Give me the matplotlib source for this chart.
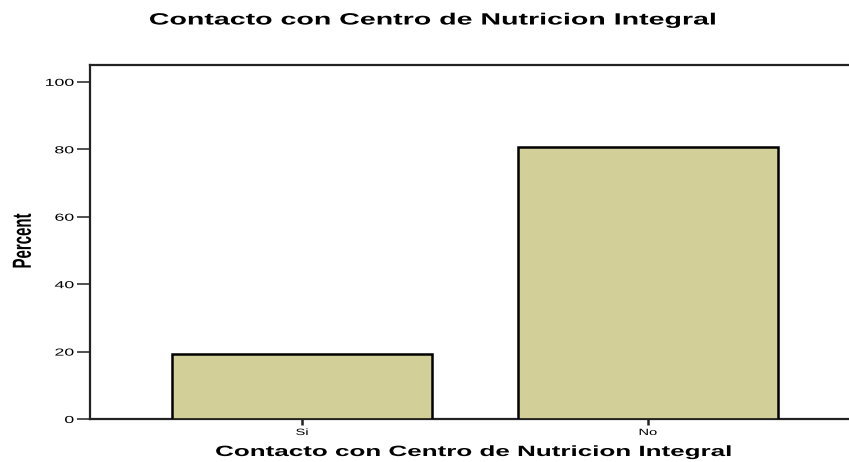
import matplotlib
matplotlib.use("Agg")
import matplotlib.pyplot as plt
from matplotlib.patheffects import AbstractPathEffect
from matplotlib.transforms import Affine2D

categories = ["Si", "No"]
percent = [19.3, 80.7]
yticks = [0, 20, 40, 60, 80, 100]

plt.rcParams['font.family'] = ['Liberation Sans', 'DejaVu Sans']


class StretchX(AbstractPathEffect):
    """Draw text stretched horizontally (display x) about its left/center/right edge."""
    def __init__(self, sx, mode='center'):
        super().__init__()
        self.sx = sx
        self.mode = mode

    def draw_path(self, renderer, gc, tpath, affine, rgbFace=None):
        bb = tpath.get_extents(affine)
        if self.mode == 'right':
            x0 = bb.x1
        elif self.mode == 'left':
            x0 = bb.x0
        else:
            x0 = 0.5 * (bb.x0 + bb.x1)
        t = affine + Affine2D().translate(-x0, 0).scale(self.sx, 1).translate(x0, 0)
        renderer.draw_path(gc, tpath, t, rgbFace)


SX = 1.75
W, H = 849, 462
fig = plt.figure(figsize=(W / 100, H / 100), dpi=100)
ax = fig.add_axes([90 / W, 1 - 419 / H, (860 - 90) / W, (419 - 65) / H])
x = list(range(len(categories)))
ax.bar(x, percent, width=0.75, color="#D3CF99", edgecolor="black", linewidth=1.8, zorder=3)
ax.set_xlim(-0.613, 1.613)
ax.set_ylim(0, 105)
ax.set_yticks(yticks)
ax.set_yticklabels([str(v) for v in yticks], fontsize=7.3)
ax.set_xticks(x)
ax.set_xticklabels(categories, fontsize=6.6)
ax.tick_params(axis='y', length=9.4, width=1.1, pad=2.2, color='#222222')
ax.tick_params(axis='x', length=4.5, width=1.8, pad=2.0, color='#222222')
for s in ax.spines.values():
    s.set_linewidth(1.6)
    s.set_color('#222222')
ax.spines['right'].set_visible(False)

for lab in ax.get_yticklabels():
    lab.set_path_effects([StretchX(SX, 'right')])
for lab in ax.get_xticklabels():
    lab.set_path_effects([StretchX(1.6, 'center')])

ylab = fig.text(23 / W, 1 - 241 / H, "Percent", fontsize=10.8, fontweight='bold',
                rotation=90, ha='center', va='center')
ylab.set_path_effects([StretchX(SX, 'center')])

xlab = fig.text(473 / W, 1 - 452 / H, "Contacto con Centro de Nutricion Integral",
                fontsize=10.7, fontweight='bold', ha='center', va='center')
xlab.set_path_effects([StretchX(SX, 'center')])

title = fig.text(433 / W, 1 - 20 / H, "Contacto con Centro de Nutricion Integral",
                 fontsize=11.75, fontweight='bold', ha='center', va='center')
title.set_path_effects([StretchX(SX, 'center')])

fig.savefig("out.png", dpi=100)
